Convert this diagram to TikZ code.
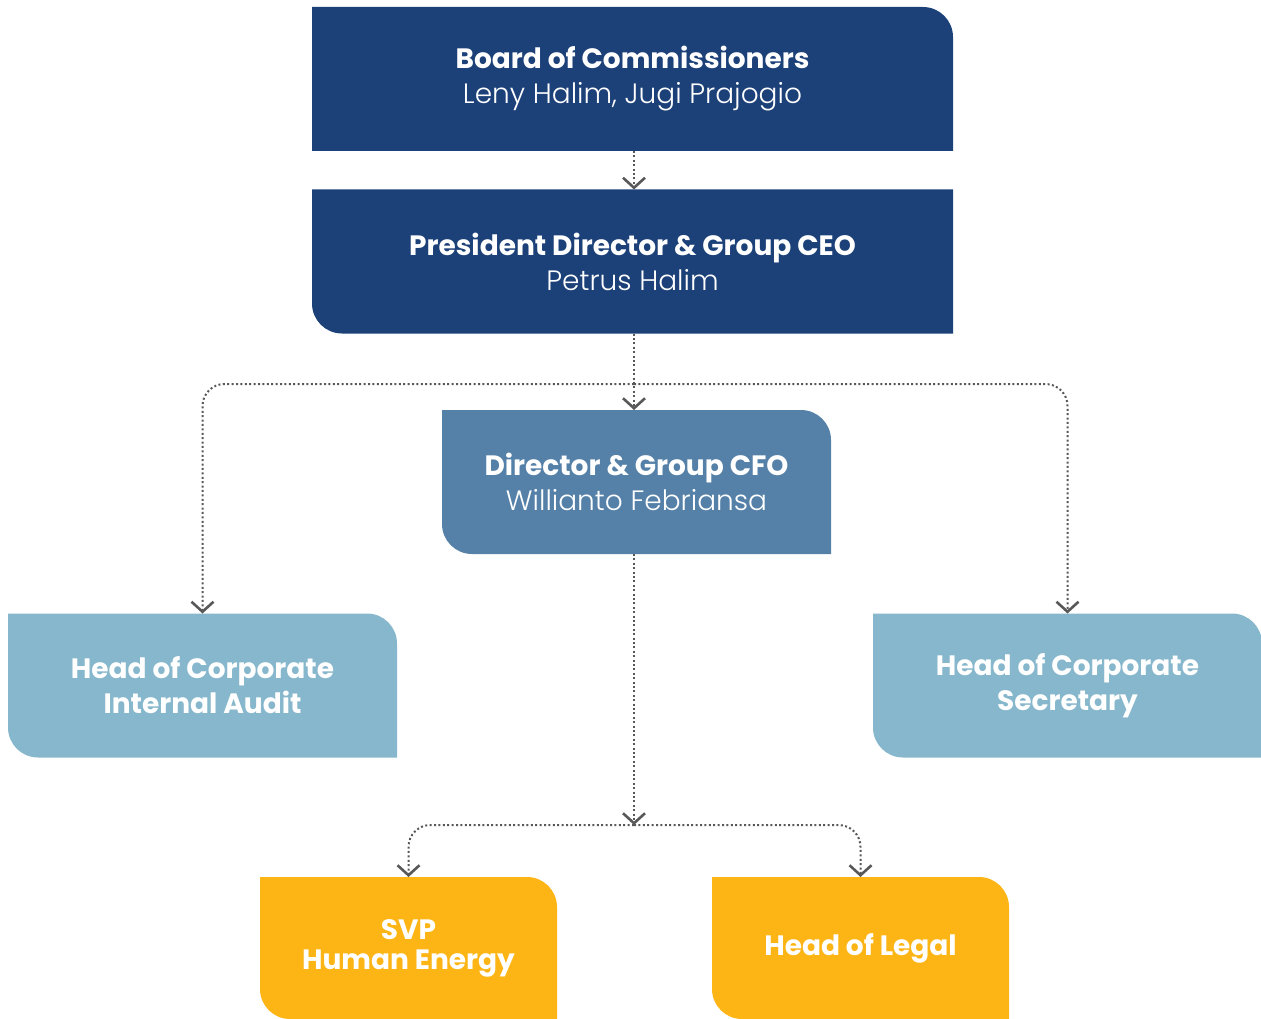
\documentclass[tikz,border=0pt]{standalone}
\usepackage{fontspec}
\setmainfont{Poppins}
\newfontfamily\lightfont{Poppins Light}
\usetikzlibrary{arrows.meta,backgrounds}
\definecolor{navy}{HTML}{1C4078}
\definecolor{steel}{HTML}{5581A8}
\definecolor{sky}{HTML}{86B7CC}
\definecolor{amber}{HTML}{FDB515}
\definecolor{linkgray}{HTML}{585858}

\tikzset{
  orgbox/.style={rectangle, inner sep=0pt, outer sep=0pt,
    align=center, text=white, font=\fontsize{28}{35}\selectfont},
  wide/.style={minimum width=641pt, minimum height=144pt},
  mid/.style={minimum width=389pt, minimum height=144pt},
  small/.style={minimum width=297pt, minimum height=142pt},
  link/.style={linkgray, line width=2pt, dash pattern=on 2pt off 2.4pt,
    -{Straight Barb[length=10pt,width=22pt,line width=2.6pt]}},
  branch/.style={link, rounded corners=22pt}
}

\begin{document}
\begin{tikzpicture}[x=1pt, y=-1pt]
  \useasboundingbox (0,0) rectangle (1261,1019);

  % boxes
  \node[orgbox, wide] (board) at (632.5,79)
    {\textbf{Board of Commissioners}\\{\lightfont Leny Halim, Jugi Prajogio}};
  \node[orgbox, wide] (pres) at (632.5,261.5)
    {\textbf{President Director \& Group CEO}\\{\lightfont Petrus Halim}};
  \node[orgbox, mid] (cfo) at (636.5,482)
    {\textbf{Director \& Group CFO}\\{\lightfont Willianto Febriansa}};
  \node[orgbox, mid] (audit) at (202.5,685.5)
    {\textbf{Head of Corporate}\\\textbf{Internal Audit}};
  \node[orgbox, mid] (sec) at (1067.5,685.5)
    {\textbf{Head of Corporate}\\\textbf{Secretary}};
  \node[orgbox, small, font=\fontsize{28}{30}\selectfont] (svp) at (408.5,948)
    {\textbf{SVP}\\\textbf{Human Energy}};
  \node[orgbox, small] (legal) at (860.5,948)
    {\textbf{Head of Legal}};

  % box fills, only some corners rounded
  \begin{scope}[on background layer]
    \fill[navy] (board.north) [rounded corners=30pt] -- (board.north east)
      [sharp corners] -- (board.south east) -- (board.south west)
      -- (board.north west) -- cycle;
    \fill[navy] (pres.north) -- (pres.north east) -- (pres.south east)
      [rounded corners=30pt] -- (pres.south west) [sharp corners]
      -- (pres.north west) -- cycle;
    \foreach \n/\c in {cfo/steel, audit/sky, sec/sky, svp/amber, legal/amber}
      \fill[\c] (\n.north) [rounded corners=30pt] -- (\n.north east)
        [sharp corners] -- (\n.south east) [rounded corners=30pt]
        -- (\n.south west) [sharp corners] -- (\n.north west) -- cycle;
  \end{scope}

  % connectors
  \coordinate (top) at (634,384);
  \coordinate (low) at (634,825);
  \draw[link] (board.south -| top) -- (pres.north -| top);
  \draw[link] (pres.south -| top) -- (cfo.north -| top);
  \draw[branch] (top) -| (audit.north);
  \draw[branch] (top) -| (sec.north);
  \draw[link] (cfo.south -| low) -- (low);
  \draw[branch] (low) -| (svp.north);
  \draw[branch] (low) -| (legal.north);
\end{tikzpicture}
\end{document}
